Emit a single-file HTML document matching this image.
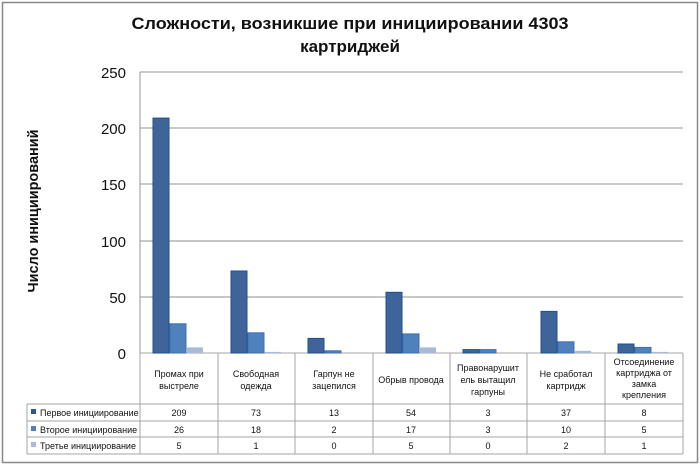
<!DOCTYPE html>
<html><head><meta charset="utf-8"><style>
html,body{margin:0;padding:0;background:#fff}
svg{display:block}
text{font-family:"Liberation Sans",Arial,sans-serif}
</style></head><body>
<svg width="700" height="466" viewBox="0 0 700 466">
<rect x="2.5" y="2.5" width="695" height="460" fill="#fff" stroke="#888" stroke-width="1.5"/>
<text x="350" y="29" text-anchor="middle" font-size="17" font-weight="bold" fill="#111" textLength="437" lengthAdjust="spacingAndGlyphs">Сложности, возникшие при инициировании  4303</text>
<text x="350" y="52" text-anchor="middle" font-size="17" font-weight="bold" fill="#111">картриджей</text>
<text transform="translate(38,211) rotate(-90)" text-anchor="middle" font-size="15" font-weight="bold" fill="#111" textLength="163" lengthAdjust="spacingAndGlyphs">Число инициирований</text>
<g stroke="#a6a6a6" stroke-width="1.2">
<line x1="140" y1="72" x2="683" y2="72"/>
<line x1="140" y1="128" x2="683" y2="128"/>
<line x1="140" y1="184" x2="683" y2="184"/>
<line x1="140" y1="241" x2="683" y2="241"/>
<line x1="140" y1="297" x2="683" y2="297"/>
<line x1="140" y1="72" x2="140" y2="353"/>
</g>
<g font-size="15" fill="#111" text-anchor="end">
<text x="126" y="78">250</text><text x="126" y="134">200</text><text x="126" y="190">150</text>
<text x="126" y="247">100</text><text x="126" y="303">50</text><text x="126" y="359">0</text>
</g>
<g stroke="#a6a6a6" stroke-width="1" fill="none">
<line x1="140" y1="353" x2="683" y2="353"/>
<line x1="27" y1="404" x2="683" y2="404"/>
<line x1="27" y1="421" x2="683" y2="421"/>
<line x1="27" y1="437" x2="683" y2="437"/>
<line x1="27" y1="454" x2="683" y2="454"/>
<line x1="27" y1="404" x2="27" y2="454"/>
<line x1="140" y1="353" x2="140" y2="454"/><line x1="218" y1="353" x2="218" y2="454"/>
<line x1="295" y1="353" x2="295" y2="454"/><line x1="373" y1="353" x2="373" y2="454"/>
<line x1="450" y1="353" x2="450" y2="454"/><line x1="527" y1="353" x2="527" y2="454"/>
<line x1="605" y1="353" x2="605" y2="454"/><line x1="683" y1="353" x2="683" y2="454"/>
</g>
<g font-size="9" fill="#111" text-anchor="middle">
<text x="179" y="377">Промах при</text><text x="179" y="389">выстреле</text>
<text x="256" y="377">Свободная</text><text x="256" y="389">одежда</text>
<text x="334" y="377">Гарпун не</text><text x="334" y="389">зацепился</text>
<text x="411" y="383">Обрыв провода</text>
<text x="488" y="371">Правонарушит</text><text x="488" y="383">ель вытащил</text><text x="488" y="395">гарпуны</text>
<text x="566" y="377">Не сработал</text><text x="566" y="389">картридж</text>
<text x="644" y="365">Отсоединение</text><text x="644" y="376">картриджа от</text><text x="644" y="387">замка</text><text x="644" y="398">крепления</text>
</g>
<g font-size="9" fill="#111">
<rect x="31" y="409" width="5" height="5" fill="#2f5592"/><text x="40" y="416">Первое инициирование</text>
<rect x="31" y="426" width="5" height="5" fill="#4f81bd"/><text x="40" y="433">Второе инициирование</text>
<rect x="31" y="442" width="5" height="5" fill="#a9b9d9"/><text x="40" y="449">Третье инициирование</text>
</g>
<g font-size="9" fill="#111" text-anchor="middle">
<text x="179" y="416">209</text><text x="256" y="416">73</text><text x="334" y="416">13</text><text x="411" y="416">54</text><text x="488" y="416">3</text><text x="566" y="416">37</text><text x="644" y="416">8</text>
<text x="179" y="433">26</text><text x="256" y="433">18</text><text x="334" y="433">2</text><text x="411" y="433">17</text><text x="488" y="433">3</text><text x="566" y="433">10</text><text x="644" y="433">5</text>
<text x="179" y="449">5</text><text x="256" y="449">1</text><text x="334" y="449">0</text><text x="411" y="449">5</text><text x="488" y="449">0</text><text x="566" y="449">2</text><text x="644" y="449">1</text>
</g>
<g>
<rect x="153" y="118.1" width="16" height="234.9" fill="#3f6499" stroke="#1f4f8f" stroke-width="1"/>
<rect x="170" y="323.8" width="16" height="29.2" fill="#4f81bd" stroke="#3f70b0" stroke-width="1"/>
<rect x="187" y="347.4" width="16" height="5.6" fill="#a9b9d9"/>
<rect x="231" y="271" width="16" height="82" fill="#3f6499" stroke="#1f4f8f" stroke-width="1"/>
<rect x="248" y="332.8" width="16" height="20.2" fill="#4f81bd" stroke="#3f70b0" stroke-width="1"/>
<rect x="265" y="351.9" width="16" height="1.1" fill="#a9b9d9"/>
<rect x="308" y="338.4" width="16" height="14.6" fill="#3f6499" stroke="#1f4f8f" stroke-width="1"/>
<rect x="325" y="350.8" width="16" height="2.2" fill="#4f81bd" stroke="#3f70b0" stroke-width="1"/>
<rect x="386" y="292.3" width="16" height="60.7" fill="#3f6499" stroke="#1f4f8f" stroke-width="1"/>
<rect x="403" y="333.9" width="16" height="19.1" fill="#4f81bd" stroke="#3f70b0" stroke-width="1"/>
<rect x="420" y="347.4" width="16" height="5.6" fill="#a9b9d9"/>
<rect x="463" y="349.6" width="16" height="3.4" fill="#3f6499" stroke="#1f4f8f" stroke-width="1"/>
<rect x="480" y="349.6" width="16" height="3.4" fill="#4f81bd" stroke="#3f70b0" stroke-width="1"/>
<rect x="541" y="311.4" width="16" height="41.6" fill="#3f6499" stroke="#1f4f8f" stroke-width="1"/>
<rect x="558" y="341.8" width="16" height="11.2" fill="#4f81bd" stroke="#3f70b0" stroke-width="1"/>
<rect x="575" y="350.8" width="16" height="2.2" fill="#a9b9d9"/>
<rect x="618" y="344" width="16" height="9" fill="#3f6499" stroke="#1f4f8f" stroke-width="1"/>
<rect x="635" y="347.4" width="16" height="5.6" fill="#4f81bd" stroke="#3f70b0" stroke-width="1"/>
<rect x="652" y="351.9" width="16" height="1.1" fill="#a9b9d9"/>
</g>
</svg>
</body></html>
